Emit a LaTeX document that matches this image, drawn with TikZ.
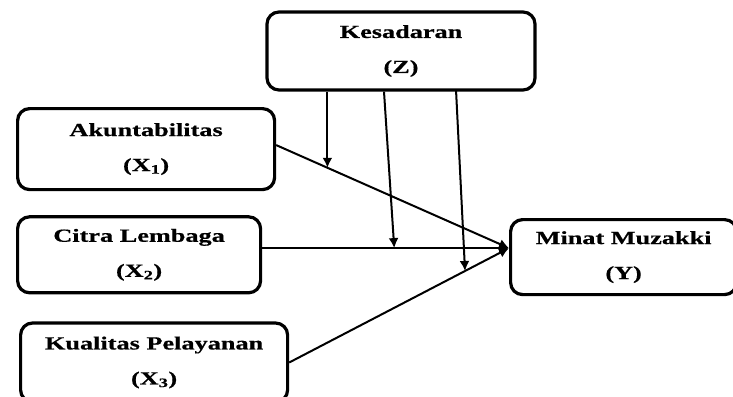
\documentclass[tikz,border=0pt]{standalone}
\usepackage{fontspec}
\setmainfont{Liberation Serif}[FakeStretch=1.42, BoldFeatures={FakeBold=0.6}]
\usetikzlibrary{calc}
\usetikzlibrary{positioning}
\usetikzlibrary{arrows.meta}

\begin{document}
\begin{tikzpicture}[x=1pt, y=-1pt,
    varBox/.style={rectangle, rounded corners=12pt, draw=black, line width=3.2pt, inner sep=0pt, align=center, font=\fontsize{18.5}{35}\selectfont\bfseries},
    linkArrow/.style={-{Latex[length=10pt,width=10pt]}, line width=2pt}]
    \useasboundingbox (0,0) rectangle (733,396);

    \node [varBox, minimum width=268pt, minimum height=78pt] (kesadaran) at (401,51) {Kesadaran\\(Z)};
    \node [varBox, minimum width=257pt, minimum height=81pt, anchor=north west] (akuntabilitas) at (16,107) {Akuntabilitas\\(X\textsubscript{1})};
    \node [varBox, minimum width=243pt, minimum height=76pt, below=24pt of akuntabilitas.south west, anchor=north west] (citraLembaga) {Citra Lembaga\\(X\textsubscript{2})};
    \node [varBox, minimum width=267pt, minimum height=79pt, below=27pt of citraLembaga.south west, anchor=north west, xshift=3pt] (kualitasPelayanan) {Kualitas Pelayanan\\(X\textsubscript{3})};
    \node [varBox, minimum width=226pt, minimum height=75pt, anchor=north west] (minatMuzakki) at (509,218) {Minat Muzakki\\(Y)};

    % paths into Y
    \coordinate (target) at ($(minatMuzakki.west)+(0,-9)$);
    \coordinate (fromX1) at ($(akuntabilitas.east)+(0,-4)$);
    \draw [linkArrow] (fromX1) -- (target);
    \draw [linkArrow] (citraLembaga.east |- target) -- (target);
    \draw [linkArrow] (kualitasPelayanan.east) -- (target);

    % moderation by Z
    \coordinate (m1) at ($(fromX1)!0.22!(target)$);
    \coordinate (m2) at ($(citraLembaga.east |- target)!0.535!(target)$);
    \coordinate (m3) at ($(kualitasPelayanan.east)!0.8!(target)$);
    \draw [linkArrow] (m1 |- kesadaran.south) -- (m1);
    \draw [linkArrow] ($(kesadaran.south)+(-17,0)$) -- (m2);
    \draw [linkArrow] ($(kesadaran.south)+(55,-2)$) -- (m3);
\end{tikzpicture}
\end{document}
